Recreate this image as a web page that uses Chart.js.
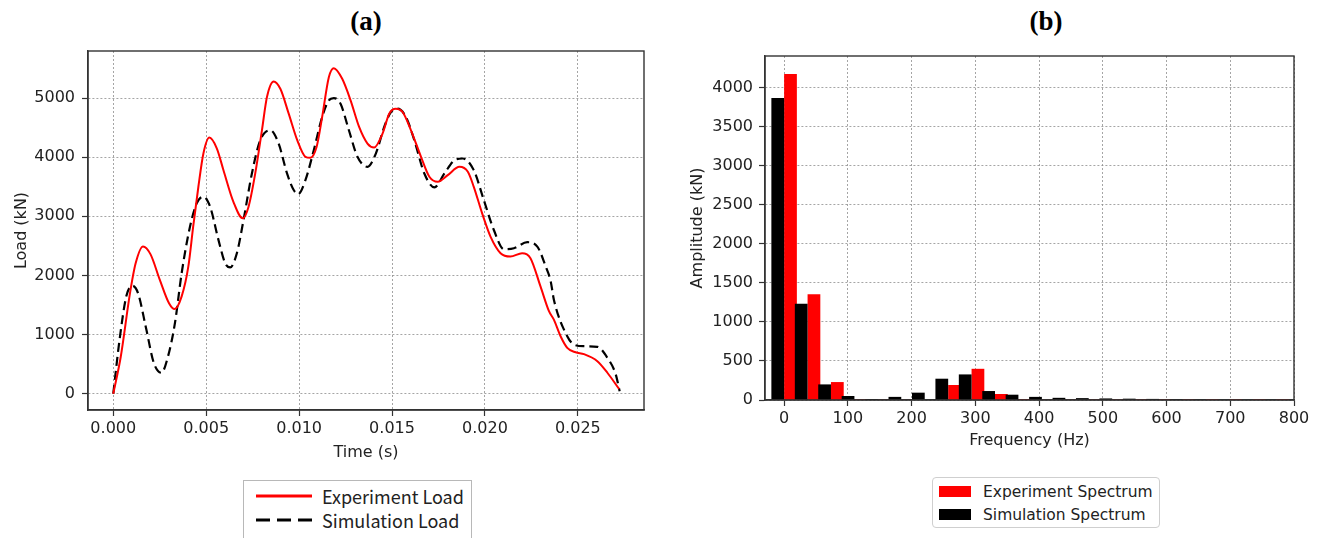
<!DOCTYPE html>
<html lang="en">
<head>
<meta charset="UTF-8">
<title>Load and spectrum</title>
<script src="https://cdn.jsdelivr.net/npm/chart.js"></script>
<style>
  body {
    margin: 0;
    width: 1320px;
    height: 538px;
    overflow: hidden;
    background: #fff;
    position: relative;
    color: #222;
    font-family: "DejaVu Sans", sans-serif;
  }
  canvas { position: absolute; top: 0; }
  #loadChart { left: 0; }
  #specChart { left: 680px; }
  .panel-title {
    position: absolute;
    top: 6px;
    width: 100px;
    margin-left: -50px;
    text-align: center;
    font: bold 27px "Liberation Serif", serif;
    color: #000;
  }
  .legend { position: absolute; box-sizing: border-box; background: #fff; }
  .legend .row { display: flex; align-items: center; white-space: nowrap; }
  #loadLegend {
    left: 243px; top: 480px; width: 229px; height: 80px;
    border: 1.5px solid #b8b8b8;
    padding: 3px 0 0 12px;
    font: 18px "Noto Sans CJK SC", sans-serif;
  }
  #loadLegend .row { height: 24px; }
  #loadLegend svg { margin-right: 10px; }
  #specLegend {
    left: 932px; top: 477px; width: 228px; height: 51px;
    border: 1px solid #cfcfcf;
    border-radius: 4px;
    padding: 2px 0 0 6px;
    font: 15.5px "DejaVu Sans", sans-serif;
  }
  #specLegend .row { height: 23px; }
  #specLegend .patch { width: 32px; height: 11px; margin-right: 12px; }
</style>
</head>
<body>

<div class="panel-title" style="left:366px">(a)</div>
<div class="panel-title" style="left:1046px">(b)</div>

<canvas id="loadChart" width="690" height="470"></canvas>
<canvas id="specChart" width="640" height="470"></canvas>

<div class="legend" id="loadLegend"></div>
<div class="legend" id="specLegend"></div>

<script>
// (a) load histories, time in s, load in kN
const expTime = [0, 0.0004, 0.0009, 0.0012, 0.0016, 0.0020, 0.0025, 0.0030, 0.0033, 0.00368,
  0.00404, 0.0043, 0.00458, 0.00485, 0.00517, 0.00557, 0.00593, 0.00647, 0.00697, 0.00728,
  0.00764, 0.0080, 0.00827, 0.00863, 0.00899, 0.00944, 0.0099, 0.01034, 0.0106, 0.01094,
  0.01124, 0.0116, 0.01187, 0.01232, 0.01277, 0.01323, 0.01368, 0.01404, 0.01449, 0.01485,
  0.0152, 0.01557, 0.01602, 0.01656, 0.01701, 0.01746, 0.0180, 0.01863, 0.01908, 0.0194,
  0.01985, 0.0203, 0.02084, 0.02137, 0.0220, 0.02245, 0.02299, 0.02344, 0.02371, 0.02407,
  0.02443, 0.02488, 0.02533, 0.02605, 0.02659, 0.02722];
const expLoad = [0, 620, 1700, 2200, 2490, 2360, 1930, 1530, 1432, 1646,
  2152, 2826, 3500, 4062, 4331, 4150, 3780, 3240, 2966, 3163,
  3725, 4455, 5017, 5281, 5157, 4736, 4287, 4006, 3989, 4174,
  4680, 5354, 5506, 5326, 4961, 4511, 4230, 4163, 4399, 4736,
  4820, 4764, 4455, 4006, 3669, 3584, 3697, 3837, 3753, 3499,
  3050, 2657, 2376, 2320, 2376, 2292, 1814, 1400, 1252, 971,
  775, 700, 670, 550, 354, 80];

const simTime = [0, 0.00034, 0.0007, 0.00103, 0.00133, 0.00178, 0.00218, 0.00259, 0.00295, 0.00332,
  0.00368, 0.00413, 0.00449, 0.00485, 0.00521, 0.00566, 0.00602, 0.00629, 0.00665, 0.00701,
  0.00746, 0.00791, 0.00845, 0.0089, 0.00935, 0.00971, 0.00995, 0.01034, 0.01079, 0.01124,
  0.0116, 0.01187, 0.01223, 0.01268, 0.01314, 0.01368, 0.01413, 0.01458, 0.01494, 0.0153,
  0.01575, 0.0162, 0.01674, 0.01728, 0.01782, 0.01836, 0.01881, 0.0194, 0.01994, 0.02048,
  0.02102, 0.02156, 0.02228, 0.02282, 0.02327, 0.02354, 0.02371, 0.02443, 0.02479, 0.02533,
  0.02605, 0.02659, 0.02704, 0.02725];
const simLoad = [0, 916, 1646, 1826, 1702, 1084, 522, 354, 635, 1197,
  2039, 2826, 3219, 3331, 3163, 2601, 2208, 2135, 2376, 2938,
  3725, 4287, 4455, 4230, 3725, 3444, 3376, 3612, 4118, 4680,
  4961, 5000, 4904, 4455, 4006, 3837, 4062, 4511, 4764, 4820,
  4680, 4287, 3725, 3489, 3725, 3949, 3978, 3781, 3275, 2769,
  2443, 2460, 2562, 2488, 2151, 1900, 1590, 971, 831, 803,
  792, 607, 326, 40];

// (b) spectra, frequency in Hz, amplitude in kN
const freqs = [0, 36.8, 73.5, 110.3, 147.1, 183.8, 220.6, 257.4, 294.1, 330.9, 367.6,
  404.4, 441.2, 477.9, 514.7, 551.5, 588.2, 625.0, 661.8, 698.5, 735.3, 772.1];
const expAmp = [4180, 1355, 230, 8, 4, 6, 5, 192, 400, 77, 10,
  6, 4, 3, 3, 2, 2, 2, 1, 1, 1, 1];
const simAmp = [3870, 1235, 200, 51, 12, 40, 94, 273, 328, 115, 68,
  40, 28, 24, 20, 17, 14, 11, 8, 6, 5, 4];

const loadTicks = [0, 1000, 2000, 3000, 4000, 5000];
const timeTicks = [0, 0.005, 0.010, 0.015, 0.020, 0.025];
const ampTicks = [0, 500, 1000, 1500, 2000, 2500, 3000, 3500, 4000];
const freqTicks = [0, 100, 200, 300, 400, 500, 600, 700, 800];

Chart.defaults.font.family = '"DejaVu Sans", sans-serif';
Chart.defaults.color = '#222';

// matplotlib style box round the plot area
const frame = {
  id: 'frame',
  afterDraw(chart) {
    const { ctx, chartArea: a } = chart;
    ctx.save();
    ctx.strokeStyle = '#333';
    ctx.lineWidth = 1.4;
    ctx.strokeRect(a.left, a.top, a.right - a.left, a.bottom - a.top);
    ctx.restore();
  }
};

function axis(opts) {
  const vertical = opts.vertical;
  return {
    type: 'linear',
    min: opts.min,
    max: opts.max,
    offset: false,
    afterBuildTicks: s => { s.ticks = opts.ticks.map(v => ({ value: v })); },
    afterFit: s => { if (vertical) s.width = opts.size; else s.height = opts.size; },
    ticks: {
      font: { size: 16 },
      color: '#222',
      padding: opts.tickPad,
      maxRotation: 0,
      autoSkip: false,
      callback: opts.format || (v => v)
    },
    grid: {
      offset: false,
      color: '#8f8f8f',
      lineWidth: 0.8,
      tickLength: 6,
      tickColor: '#333',
      tickWidth: 1.2,
      tickBorderDash: []
    },
    border: { display: true, color: '#333', width: 1.4, dash: [2, 2] },
    title: {
      display: true,
      text: opts.title,
      font: { size: 16 },
      color: '#222',
      padding: vertical ? { top: opts.titlePad, bottom: 0 } : { top: 0, bottom: opts.titlePad }
    }
  };
}

const loadChart = new Chart(document.getElementById('loadChart'), {
  type: 'line',
  data: {
    datasets: [{
      label: 'Experiment Load',
      data: expTime.map((t, i) => ({ x: t, y: expLoad[i] })),
      borderColor: '#ff0000',
      borderWidth: 2,
      pointRadius: 0,
      cubicInterpolationMode: 'monotone'
    }, {
      label: 'Simulation Load',
      data: simTime.map((t, i) => ({ x: t, y: simLoad[i] })),
      borderColor: '#000',
      borderWidth: 2.2,
      borderDash: [9, 5],
      pointRadius: 0,
      cubicInterpolationMode: 'monotone'
    }]
  },
  options: {
    responsive: false,
    animation: false,
    layout: { padding: { left: 0, top: 51, right: 46, bottom: 0 } },
    plugins: { legend: { display: false }, tooltip: { enabled: false } },
    scales: {
      x: axis({ min: -0.00136, max: 0.02856, ticks: timeTicks, size: 60, tickPad: 3,
        title: 'Time (s)', titlePad: 8, format: v => v.toFixed(3) }),
      y: axis({ vertical: true, min: -276, max: 5796, ticks: loadTicks, size: 88, tickPad: 7,
        title: 'Load (kN)', titlePad: 12 })
    }
  },
  plugins: [frame]
});

const specChart = new Chart(document.getElementById('specChart'), {
  type: 'bar',
  data: {
    datasets: [{
      label: 'Simulation Spectrum',
      data: freqs.map((f, i) => ({ x: f, y: simAmp[i] })),
      backgroundColor: '#000'
    }, {
      label: 'Experiment Spectrum',
      data: freqs.map((f, i) => ({ x: f, y: expAmp[i] })),
      backgroundColor: '#ff0000'
    }]
  },
  options: {
    responsive: false,
    animation: false,
    categoryPercentage: 1.09,
    barPercentage: 1,
    layout: { padding: { left: 0, top: 56, right: 26, bottom: 0 } },
    plugins: { legend: { display: false }, tooltip: { enabled: false } },
    scales: {
      x: axis({ min: -30, max: 800, ticks: freqTicks, size: 70, tickPad: 3,
        title: 'Frequency (Hz)', titlePad: 20 }),
      y: axis({ vertical: true, min: 0, max: 4410, ticks: ampTicks, size: 85, tickPad: 6,
        title: 'Amplitude (kN)', titlePad: 8 })
    }
  },
  plugins: [frame]
});

// legends built from the datasets
function lineLegend(chart, el) {
  chart.data.datasets.forEach(ds => {
    const dash = ds.borderDash ? '14 7' : 'none';
    el.insertAdjacentHTML('beforeend',
      '<div class="row"><svg width="56" height="6"><line x1="0" y1="3" x2="56" y2="3" stroke="' +
      ds.borderColor + '" stroke-width="3" stroke-dasharray="' + dash + '"/></svg>' +
      '<span>' + ds.label + '</span></div>');
  });
}
function barLegend(chart, el) {
  chart.data.datasets.slice().reverse().forEach(ds => {
    el.insertAdjacentHTML('beforeend',
      '<div class="row"><div class="patch" style="background:' + ds.backgroundColor + '"></div>' +
      '<span>' + ds.label + '</span></div>');
  });
}
lineLegend(loadChart, document.getElementById('loadLegend'));
barLegend(specChart, document.getElementById('specLegend'));
</script>

</body>
</html>
